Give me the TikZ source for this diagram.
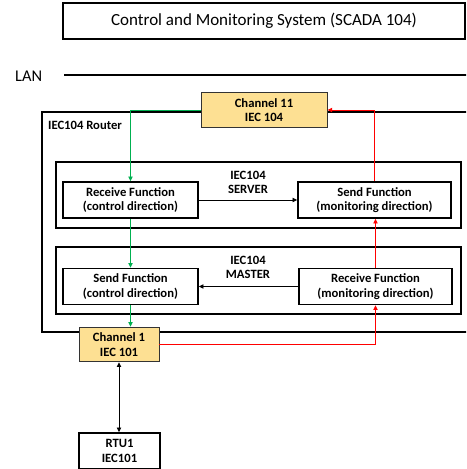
\documentclass[tikz,border=0pt]{standalone}
\usepackage{fontspec}
\setmainfont{Carlito}
\usetikzlibrary{arrows.meta, positioning, calc}
\tikzset{
  every node/.style={font=\fontsize{10.8}{12.4}\selectfont\bfseries},
  frame/.style={draw=black, line width=1.4pt, inner sep=0pt},
  func/.style={
    draw=black, line width=1.4pt, fill=white, align=center,
    minimum height=10.8mm, inner sep=1pt
  },
  chan/.style={
    draw=black!80, line width=0.8pt, fill=yellow!45!orange!40, align=center,
    minimum height=10.4mm, inner sep=1pt
  },
  arr/.style={-{Triangle[length=1.4mm,width=1.3mm]}, line width=0.8pt},
  garr/.style={arr, draw={rgb,255:red,0;green,176;blue,80}},
  rarr/.style={arr, draw={rgb,255:red,255;green,0;blue,0}},
}

\begin{document}
\begin{tikzpicture}[x=0.3mm, y=-0.3mm]
    \clip (0,0) rectangle (466,469);
    \useasboundingbox (0,0) rectangle (466,469);

    % SCADA and LAN
    \node[draw=black, line width=1.4pt, minimum width=120.6mm, minimum height=10.8mm,
      font=\fontsize{14.5}{16}\selectfont] (scada) at (264,21)
      {Control and Monitoring System (SCADA 104)};
    \node[font=\fontsize{14}{16}\selectfont, anchor=west] (lan) at (11,76) {LAN};
    \coordinate (lanL) at (64,75);
    \coordinate (lanR) at (470,75);
    \draw[line width=1.6pt] (lanL) -- (lanR);

    % Router and its two sides
    \node[frame, minimum width=131.4mm, minimum height=66mm] (router) at (261,222) {};
    \node[anchor=west] (routerlbl) at (44,125) {IEC104 Router};

    \node[frame, minimum width=121.5mm, minimum height=19.8mm] (server) at (258.5,195) {};
    \node[align=center] (servertitle) at (248,182.5) {IEC104\\SERVER};
    \node[frame, minimum width=121.5mm, minimum height=20.1mm] (master) at (258.5,280.5) {};
    \node[align=center] (mastertitle) at (248,267.5) {IEC104\\MASTER};

    % Functions
    \node[func, minimum width=40.5mm] (rcvC) at (130.5,200)
      {Receive Function\\(control direction)};
    \node[func, minimum width=45.9mm] (sndM) at (374.5,200)
      {Send Function\\(monitoring direction)};
    \node[func, minimum width=40.5mm] (sndC) at (130.5,286.5)
      {Send Function\\(control direction)};
    \node[func, minimum width=45.9mm] (rcvM) at (375.5,286.5)
      {Receive Function\\(monitoring direction)};

    % Channels and RTU
    \node[chan, minimum width=37.8mm] (ch11) at (264,110) {Channel 11\\IEC 104};
    \node[chan, minimum width=24mm] (ch1) at (119,344.5) {Channel 1\\IEC 101};
    \node[func, minimum width=24.3mm] (rtu) at (119.5,451) {RTU1\\IEC101};

    % Inside the router
    \draw[arr] (rcvC.east) -- (sndM.west);
    \draw[arr] (rcvM.west) -- (sndC.east);

    % Control direction
    \draw[garr] (ch11.west) -| (rcvC.north);
    \draw[garr] (rcvC.south) -- (sndC.north);
    \draw[garr] (sndC.south) -- (sndC.south |- ch1.north);

    % Monitoring direction
    \draw[rarr] (ch1.east) -| (rcvM.south);
    \draw[rarr] (rcvM.north) -- (rcvM.north |- sndM.south);
    \draw[rarr] (sndM.north) |- (ch11.east);

    % Serial line
    \draw[arr, {Triangle[length=1.4mm,width=1.3mm]}-{Triangle[length=1.4mm,width=1.3mm]}]
      (ch1.south) -- (ch1.south |- rtu.north);
\end{tikzpicture}
\end{document}
